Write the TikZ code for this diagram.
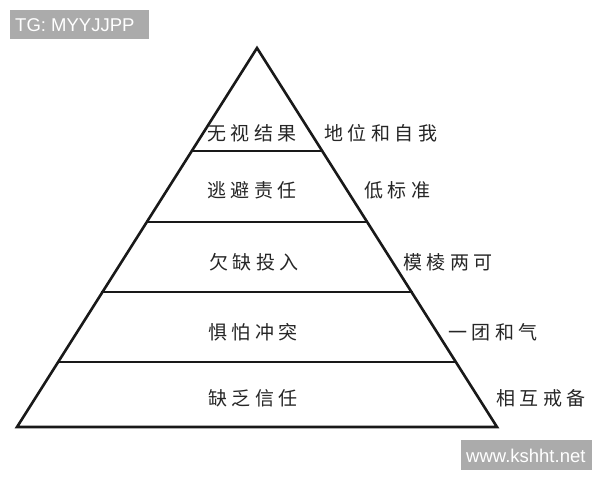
\documentclass[tikz,border=0pt]{standalone}
\usepackage{fontspec}
\setmainfont{Liberation Sans}
\newfontfamily\cjk{Noto Sans CJK SC}
\newcommand\gp{\hspace{4.5pt}}
\begin{document}
\begin{tikzpicture}[x=1pt,y=-1pt,
  edge/.style={line width=2.6pt,line join=miter,line cap=rect,black!90},
  lbl/.style={font=\cjk\fontsize{19}{19}\selectfont,text=black!85,inner sep=0pt},
  mark/.style={fill=black!33,text=white,font=\fontsize{18.5}{18.5}\selectfont,inner sep=0pt,anchor=north west}
]
\useasboundingbox[fill=white] (0,0) rectangle (600,480);
% watermarks
\fill[black!33] (10,10) rectangle (149,39);
\node[text=white,font=\fontsize{18.5}{18.5}\selectfont,anchor=west,inner sep=0pt] (tg) at (15,25) {TG: MYYJJPP};
\fill[black!33] (461,440) rectangle (592,470);
\node[text=white,font=\fontsize{18.5}{18.5}\selectfont,anchor=west,inner sep=0pt] (www) at (466,456) {www.kshht.net};
% pyramid
\coordinate (A) at (257,48);
\coordinate (BL) at (17,427);
\coordinate (BR) at (497,427);
\coordinate (l1) at (192,151); \coordinate (r1) at (322,151);
\coordinate (l2) at (147,222); \coordinate (r2) at (367,222);
\coordinate (l3) at (102.5,292); \coordinate (r3) at (411.5,292);
\coordinate (l4) at (58,362); \coordinate (r4) at (456,362);
\draw[edge] (A) -- (BR) -- (BL) -- cycle;
\draw[edge] (l1) -- (r1);
\draw[edge] (l2) -- (r2);
\draw[edge] (l3) -- (r3);
\draw[edge] (l4) -- (r4);
% level labels
\node[lbl] (t1) at (252,133) {无\gp 视\gp 结\gp 果};
\node[lbl] (t2) at (252,190) {逃\gp 避\gp 责\gp 任};
\node[lbl] (t3) at (254,262) {欠\gp 缺\gp 投\gp 入};
\node[lbl] (t4) at (253,332) {惧\gp 怕\gp 冲\gp 突};
\node[lbl] (t5) at (253,398) {缺\gp 乏\gp 信\gp 任};
% side labels
\node[lbl,anchor=west] (s1) at (324,133) {地\gp 位\gp 和\gp 自\gp 我};
\node[lbl,anchor=west] (s2) at (364,190) {低\gp 标\gp 准};
\node[lbl,anchor=west] (s3) at (403,262) {模\gp 棱\gp 两\gp 可};
\node[lbl,anchor=west] (s4) at (448,332) {一\gp 团\gp 和\gp 气};
\node[lbl,anchor=west] (s5) at (496,398) {相\gp 互\gp 戒\gp 备};
\end{tikzpicture}
\end{document}
